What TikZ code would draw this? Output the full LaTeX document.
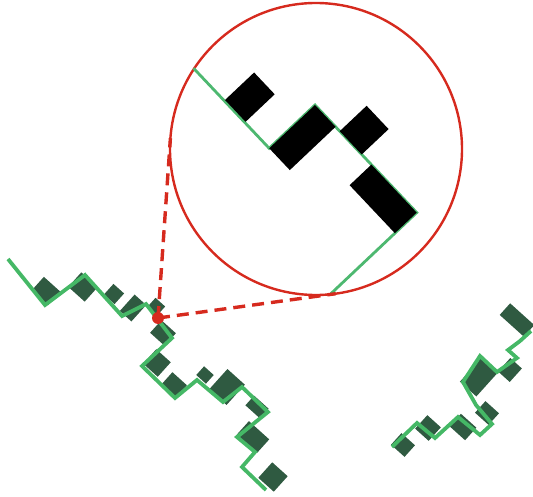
\documentclass[tikz,border=0pt]{standalone}
\usetikzlibrary{calc}
\definecolor{lensred}{HTML}{D62A1E}
\definecolor{chaingreen}{HTML}{45B866}
\definecolor{lensgreen}{HTML}{4DB870}
\definecolor{darkblock}{HTML}{2F5A41}
\tikzset{
  chainline/.style={draw=chaingreen, line width=3.8pt, line join=miter},
  lensline/.style={draw=lensgreen, line width=2.8pt},
  lensring/.style={circle, draw=lensred, line width=2.4pt, minimum size=292pt, inner sep=0pt, outer sep=0pt},
  guide/.style={draw=lensred, line width=3.4pt, dash pattern=on 12pt off 7pt},
  blockfill/.style={fill=darkblock},
  lensblock/.style={fill=black},
  spotdot/.style={circle, fill=lensred, minimum size=12pt, inner sep=0pt, outer sep=0pt},
}
\newcommand\chainblock[4]{\fill[blockfill, shift={(#1,#2)}, rotate=-42, scale=1.3] (-#3/2,-#4/2) rectangle (#3/2,#4/2);}
\begin{document}
\begin{tikzpicture}[x=1pt,y=-1pt]
\useasboundingbox (0,0) rectangle (533,497);
% left chain blocks
\chainblock{46}{291}{17}{14}
\chainblock{83}{287}{17}{15}
\chainblock{114}{294}{11}{11}
\chainblock{133}{308}{12}{17}
\chainblock{156}{307}{10}{10}
\chainblock{163}{333}{15}{13}
\chainblock{157}{363}{15}{15}
\chainblock{174}{385}{15}{13}
\chainblock{205}{375}{10}{9}
\chainblock{227}{387}{18}{21}
\chainblock{257}{407}{15}{10}
\chainblock{253}{437}{21}{14}
\chainblock{273}{477}{16}{16}
% right chain blocks
\chainblock{403}{445}{14}{12}
\chainblock{428}{428}{14}{14}
\chainblock{463}{427}{16}{13}
\chainblock{487}{413}{14}{12}
\chainblock{479}{377}{17}{25}
\chainblock{510}{370}{12}{14}
\chainblock{517}{320}{25}{12}
% chain lines
\draw[chainline] (8,259) -- (45,305) -- (85,275) -- (122,316) -- (146,304) -- (172,338) -- (142,366) -- (175,398) -- (197,380) -- (223,402) -- (242,387) -- (268,412) -- (237,437) -- (255,452) -- (242,467) -- (266,490);
\draw[chainline] (392,447) -- (417,423) -- (435,438) -- (458,417) -- (480,435) -- (492,424) -- (476,405) -- (463,382) -- (480,356) -- (497,372) -- (517,358) -- (508,350) -- (520,341) -- (531,331);
% magnified view
\node[lensring] (lens) at (316,149) {};
\coordinate (T1) at (170.4,138.2);
\coordinate (T2) at (335.7,293.7);
\draw[lensline] (193.6,68.3) -- (269.2,148.3) -- (315,105) -- (416.7,212.6) -- (330.9,293.7);
\fill[lensblock] (225,100) -- (245.6,121.8) -- (274.7,94.3) -- (254.1,72.5) -- cycle;
\fill[lensblock] (269.2,148.3) -- (315,105) -- (335.6,126.8) -- (289.8,170.1) -- cycle;
\fill[lensblock] (339.7,131.2) -- (361.7,154.5) -- (388.6,129.1) -- (366.6,105.8) -- cycle;
\fill[lensblock] (416.7,212.6) -- (371.4,164.6) -- (349.6,185.2) -- (394.9,233.2) -- cycle;
% spot and guides
\node[spotdot] (spot) at (158,318) {};
\draw[guide] (spot.center) -- (T1);
\draw[guide] (spot.center) -- (T2);
\end{tikzpicture}
\end{document}
